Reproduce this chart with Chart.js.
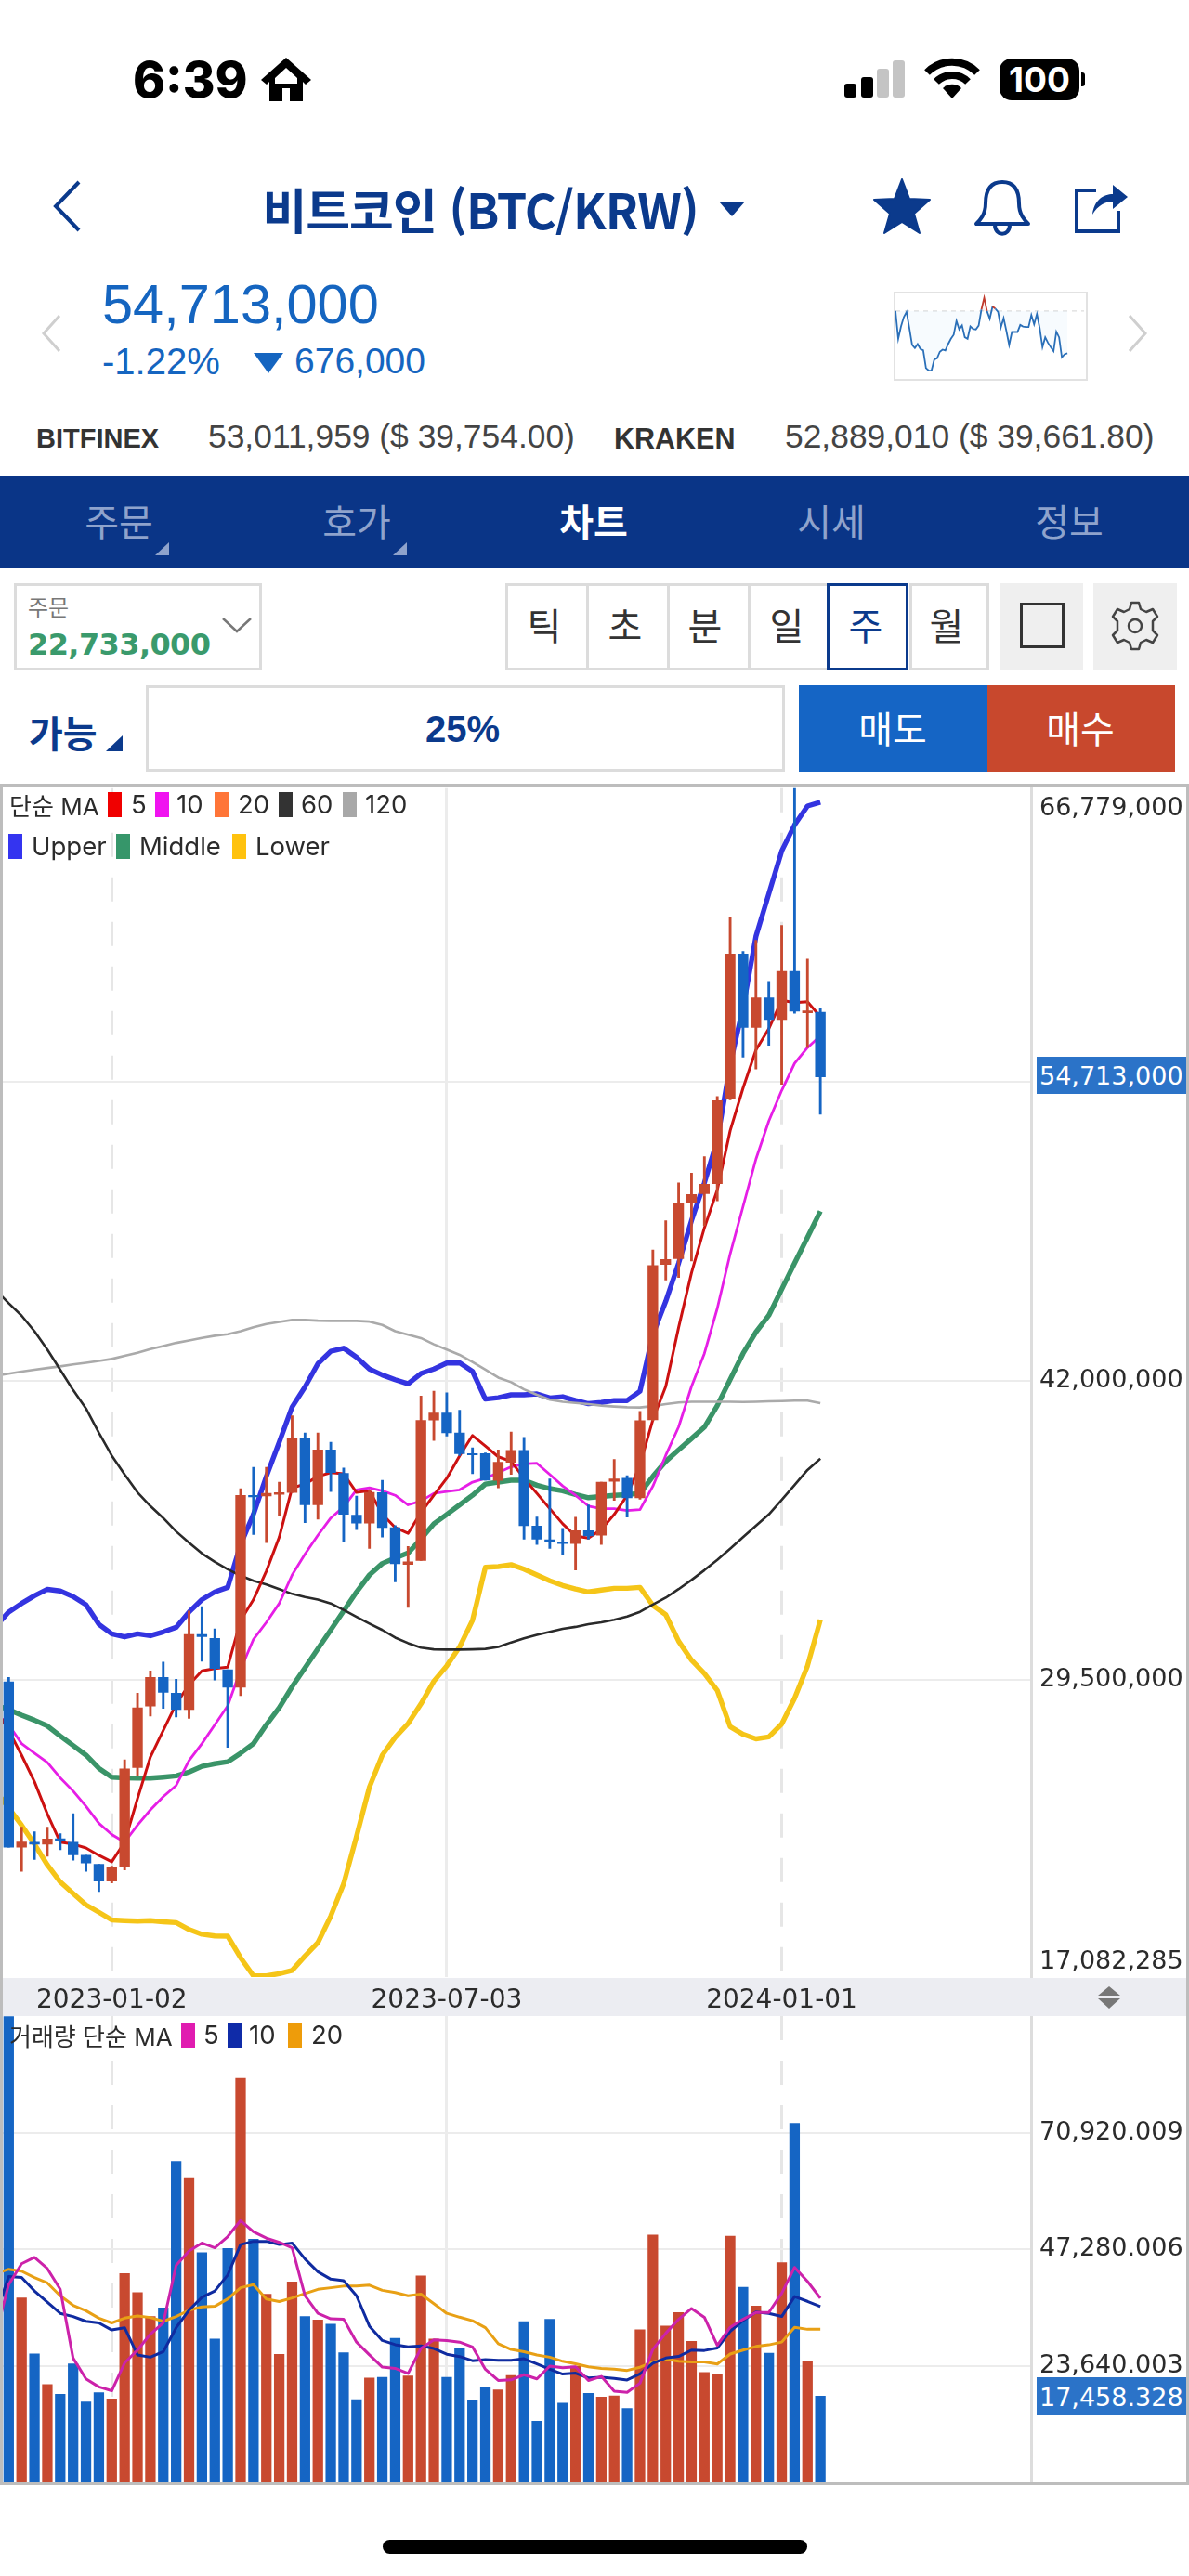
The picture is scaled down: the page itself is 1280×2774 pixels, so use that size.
<!DOCTYPE html>
<html lang="ko">
<head>
<meta charset="utf-8">
<title>비트코인 (BTC/KRW)</title>
<script src="https://cdn.jsdelivr.net/npm/chart.js@4/dist/chart.umd.min.js"></script>
<style>
html, body { margin: 0; padding: 0; background: #fff; }
#page { position: relative; width: 1280px; height: 2774px; overflow: hidden; font-family: "Liberation Sans", "Noto Sans CJK KR", sans-serif; }
#page > * { position: absolute; }
canvas { display: block; }
.c { transform: translate(-50%, -50%); white-space: nowrap; }
.l { transform: translateY(-50%); white-space: nowrap; }
.kr { font-family: "Noto Sans CJK KR", sans-serif; }
.chartText { font-family: Inter, "Noto Sans CJK KR", sans-serif; font-size: 27.5px; color: #2b2b2b; }
.axisText { font-family: "DejaVu Sans", sans-serif; font-size: 27px; color: #2b2b2b; }
.swatch { width: 15px; height: 27px; }
.seg { box-sizing: border-box; border: 3px solid #dcdcdc; background: #fff; }
.tab { font-size: 40px; color: #8fa3cc; }
.btn { font-size: 40px; color: #333; }
</style>
</head>
<body>
<div id="page">

  <!-- status bar -->
  <div class="l" style="left:143px;top:86px;font:800 53px Inter,sans-serif;color:#000">6:39</div>
  <svg style="left:280px;top:60px" width="56" height="50" viewBox="0 0 56 50"><path d="M28 2 L55 26 L49 31 L46 28 V49 H32 V35 H24 V49 H10 V28 L7 31 L1 26 Z M28 13 L16 24 V30 H40 V24 Z" fill="#000" fill-rule="evenodd"/></svg>
  <div style="left:909px;top:90px;width:13px;height:15px;background:#000;border-radius:3px"></div>
  <div style="left:927px;top:83px;width:13px;height:22px;background:#000;border-radius:3px"></div>
  <div style="left:944px;top:74px;width:13px;height:31px;background:#c4c4c4;border-radius:3px"></div>
  <div style="left:961px;top:65px;width:13px;height:40px;background:#c4c4c4;border-radius:3px"></div>
  <svg style="left:995px;top:62px" width="60" height="46" viewBox="0 0 60 46"><path d="M3 16 A38 38 0 0 1 57 16" fill="none" stroke="#000" stroke-width="8"/><path d="M13 26 A24 24 0 0 1 47 26" fill="none" stroke="#000" stroke-width="8"/><path d="M30 44 L20 33 A14 14 0 0 1 40 33 Z" fill="#000"/></svg>
  <div style="left:1076px;top:63px;width:86px;height:45px;border-radius:13px;background:#000;color:#fff;font:bold 37px/45px Inter,sans-serif;text-align:center">100</div>
  <div style="left:1164px;top:78px;width:4px;height:15px;background:#000;border-radius:0 3px 3px 0"></div>

  <!-- title -->
  <svg style="left:55px;top:193px" width="34" height="58" viewBox="0 0 34 58"><path d="M30 3 L5 29 L30 55" fill="none" stroke="#0b3a8c" stroke-width="4"/></svg>
  <div class="c kr" style="left:517px;top:224px;font-size:52px;font-weight:700;color:#0b3a8c;letter-spacing:-1px">비트코인 (BTC/KRW)</div>
  <svg style="left:774px;top:217px" width="28" height="16" viewBox="0 0 28 16"><path d="M0 0 H28 L14 16 Z" fill="#0b3a8c"/></svg>
  <svg style="left:940px;top:192px" width="62" height="60" viewBox="0 0 62 60"><path d="M31 1 L39 22 L61 23 L44 38 L50 59 L31 47 L12 59 L18 38 L1 23 L23 22 Z" fill="#0b3a8c" stroke="#0b3a8c" stroke-width="2" stroke-linejoin="round"/></svg>
  <svg style="left:1047px;top:193px" width="64" height="62" viewBox="0 0 64 62"><path d="M32 3 C18 3 14 14 14 26 C14 38 8 44 4 48 H60 C56 44 50 38 50 26 C50 14 46 3 32 3 Z M24 49 C24 62 40 62 40 49" fill="none" stroke="#0b3a8c" stroke-width="4" stroke-linejoin="round"/></svg>
  <svg style="left:1156px;top:191px" width="60" height="62" viewBox="0 0 60 62"><path d="M24 14 H3 V58 H48 V36" fill="none" stroke="#0b3a8c" stroke-width="4"/><path d="M20 40 C22 24 32 18 42 18 V8 L58 21 L42 34 V26 C34 26 26 30 20 40 Z" fill="#0b3a8c"/></svg>

  <!-- price -->
  <div class="l" style="left:110px;top:327px;font-size:59.5px;color:#1565c0">54,713,000</div>
  <div class="l" style="left:110px;top:389px;font-size:40px;color:#1565c0">-1.22%</div>
  <svg style="left:273px;top:380px" width="32" height="22" viewBox="0 0 32 22"><path d="M0 0 H32 L16 22 Z" fill="#1565c0"/></svg>
  <div class="l" style="left:317px;top:389px;font-size:39px;color:#1565c0">676,000</div>
  <svg style="left:44px;top:338px" width="22" height="42" viewBox="0 0 22 42"><path d="M20 2 L3 21 L20 40" fill="none" stroke="#cfcfcf" stroke-width="3"/></svg>
  <svg style="left:1214px;top:338px" width="22" height="42" viewBox="0 0 22 42"><path d="M2 2 L19 21 L2 40" fill="none" stroke="#cfcfcf" stroke-width="3"/></svg>
  <div style="left:962px;top:314px;width:205px;height:92px;border:2px solid #e2e2e2"></div>
  <canvas id="sparkChart" width="207" height="94" style="left:962px;top:314px;width:207px;height:94px"></canvas>

  <!-- other exchanges -->
  <div class="l" style="left:39px;top:472px;font-size:29px;font-weight:bold;color:#333">BITFINEX</div>
  <div class="l" style="left:224px;top:470px;font-size:35.4px;color:#444">53,011,959 ($ 39,754.00)</div>
  <div class="l" style="left:661px;top:472px;font-size:30.5px;font-weight:bold;color:#333">KRAKEN</div>
  <div class="l" style="left:845px;top:470px;font-size:35.4px;color:#444">52,889,010 ($ 39,661.80)</div>

  <!-- tabs -->
  <div style="left:0;top:513px;width:1280px;height:99px;background:#0a3587"></div>
  <div class="c kr tab" style="left:128px;top:560px">주문</div>
  <div class="c kr tab" style="left:384px;top:560px">호가</div>
  <div class="c kr tab" style="left:639px;top:560px;color:#fff;font-weight:bold">차트</div>
  <div class="c kr tab" style="left:895px;top:560px">시세</div>
  <div class="c kr tab" style="left:1151px;top:560px">정보</div>
  <svg style="left:167px;top:584px" width="15" height="14" viewBox="0 0 15 14"><path d="M15 0 V14 H0 Z" fill="#8fa3cc"/></svg>
  <svg style="left:423px;top:584px" width="15" height="14" viewBox="0 0 15 14"><path d="M15 0 V14 H0 Z" fill="#8fa3cc"/></svg>

  <!-- controls -->
  <div class="seg" style="left:15px;top:628px;width:267px;height:94px"></div>
  <div class="l kr" style="left:30px;top:652px;font-size:24px;color:#777">주문</div>
  <div class="l" style="left:30px;top:694px;font:bold 32px 'DejaVu Sans',sans-serif;color:#3a9a6c;letter-spacing:-0.6px">22,733,000</div>
  <svg style="left:239px;top:665px" width="32" height="17" viewBox="0 0 32 17"><path d="M1 1 L16 15 L31 1" fill="none" stroke="#777" stroke-width="2.5"/></svg>

  <div class="seg" style="left:544px;top:628px;width:90px;height:94px"></div>
  <div class="seg" style="left:631px;top:628px;width:90px;height:94px"></div>
  <div class="seg" style="left:718px;top:628px;width:90px;height:94px"></div>
  <div class="seg" style="left:805px;top:628px;width:90px;height:94px"></div>
  <div class="seg" style="left:979px;top:628px;width:86px;height:94px"></div>
  <div class="seg" style="left:890px;top:628px;width:88px;height:94px;border-color:#0b3a8c"></div>
  <div class="c kr btn" style="left:586px;top:672px">틱</div>
  <div class="c kr btn" style="left:673px;top:672px">초</div>
  <div class="c kr btn" style="left:759px;top:672px">분</div>
  <div class="c kr btn" style="left:847px;top:672px">일</div>
  <div class="c kr btn" style="left:932px;top:672px;color:#0b3a8c">주</div>
  <div class="c kr btn" style="left:1019px;top:672px">월</div>
  <div style="left:1076px;top:628px;width:90px;height:94px;background:#efefef"></div>
  <div style="left:1098px;top:649px;width:42px;height:43px;border:3px solid #333"></div>
  <div style="left:1177px;top:628px;width:90px;height:94px;background:#efefef"></div>
  <svg style="left:1195px;top:647px" width="54" height="54" viewBox="0 0 54 54"><g fill="none" stroke="#444" stroke-width="2.5"><circle cx="27" cy="27" r="7"/><path d="M23 2 H31 L33 9 L39 12 L46 9 L51 17 L46 22 V32 L51 37 L46 45 L39 42 L33 45 L31 52 H23 L21 45 L15 42 L8 45 L3 37 L8 32 V22 L3 17 L8 9 L15 12 L21 9 Z" stroke-linejoin="round"/></g></svg>

  <div class="l kr" style="left:31px;top:788px;font-size:40px;font-weight:bold;color:#0b3a8c">가능</div>
  <svg style="left:114px;top:792px" width="18" height="17" viewBox="0 0 18 17"><path d="M18 0 V17 H0 Z" fill="#0b3a8c"/></svg>
  <div class="seg" style="left:157px;top:738px;width:688px;height:93px"></div>
  <div class="c" style="left:498px;top:785px;font-size:40px;font-weight:bold;color:#0b3a8c">25%</div>
  <div style="left:860px;top:738px;width:203px;height:93px;background:#1565c5"></div>
  <div style="left:1063px;top:738px;width:202px;height:93px;background:#c8482d"></div>
  <div class="c kr" style="left:961px;top:783px;font-size:40px;color:#fff">매도</div>
  <div class="c kr" style="left:1163px;top:783px;font-size:40px;color:#fff">매수</div>

  <!-- chart frame: both canvases start one slot left of the page so the lines run into the frame -->
  <div style="left:0;top:2130px;width:1278px;height:41px;background:#ecedf2"></div>
  <canvas id="priceChart" width="1294" height="1326" style="left:-14px;top:845px;width:1294px;height:1326px"></canvas>
  <canvas id="volumeChart" width="1294" height="502" style="left:-14px;top:2171px;width:1294px;height:502px"></canvas>
  <div style="left:1109px;top:845px;width:3px;height:1285px;background:#dddddd"></div>
  <div style="left:1109px;top:2171px;width:3px;height:502px;background:#dddddd"></div>
  <div style="left:0;top:844px;width:1280px;height:3px;background:#bdbdbd"></div>
  <div style="left:0;top:2673px;width:1280px;height:3px;background:#bdbdbd"></div>
  <div style="left:0;top:844px;width:3px;height:1832px;background:#bdbdbd"></div>
  <div style="left:1277px;top:844px;width:3px;height:1832px;background:#bdbdbd"></div>

  <!-- price legend -->
  <div class="l chartText" style="left:10px;top:866px;font-size:26px">단순 MA</div>
  <div class="swatch" style="left:116px;top:853px;background:#f00000"></div>
  <div class="l chartText" style="left:141px;top:866px">5</div>
  <div class="swatch" style="left:167px;top:853px;background:#f013f0"></div>
  <div class="l chartText" style="left:190px;top:866px">10</div>
  <div class="swatch" style="left:231px;top:853px;background:#ff7538"></div>
  <div class="l chartText" style="left:256px;top:866px">20</div>
  <div class="swatch" style="left:300px;top:853px;background:#333333"></div>
  <div class="l chartText" style="left:324px;top:866px">60</div>
  <div class="swatch" style="left:369px;top:853px;background:#a8a8a8"></div>
  <div class="l chartText" style="left:393px;top:866px">120</div>
  <div class="swatch" style="left:9px;top:898px;background:#3434f0"></div>
  <div class="l chartText" style="left:34px;top:911px">Upper</div>
  <div class="swatch" style="left:125px;top:898px;background:#36966a"></div>
  <div class="l chartText" style="left:150px;top:911px">Middle</div>
  <div class="swatch" style="left:250px;top:898px;background:#ffc20e"></div>
  <div class="l chartText" style="left:275px;top:911px">Lower</div>

  <!-- volume legend -->
  <div class="l chartText" style="left:10px;top:2191px;font-size:26px">거래량 단순 MA</div>
  <div class="swatch" style="left:195px;top:2178px;background:#e01cb0"></div>
  <div class="l chartText" style="left:219px;top:2191px">5</div>
  <div class="swatch" style="left:245px;top:2178px;background:#0f2ba8"></div>
  <div class="l chartText" style="left:268px;top:2191px">10</div>
  <div class="swatch" style="left:310px;top:2178px;background:#ee9c0a"></div>
  <div class="l chartText" style="left:335px;top:2191px">20</div>

  <!-- axis labels at the pane edges and current values -->
  <div class="l axisText" style="left:1119px;top:868px">66,779,000</div>
  <div class="l axisText" style="left:1119px;top:2110px">17,082,285</div>
  <div style="left:1116px;top:1138px;width:161px;height:40px;background:#2b73c8"></div>
  <div class="l axisText" style="left:1119px;top:1158px;color:#fff">54,713,000</div>
  <div style="left:1116px;top:2560px;width:161px;height:41px;background:#2b73c8"></div>
  <div class="l axisText" style="left:1119px;top:2581px;color:#fff">17,458.328</div>
  <svg style="left:1182px;top:2139px" width="24" height="24" viewBox="0 0 24 24"><path d="M12 0 L24 10 H0 Z M0 13 H24 L12 24 Z" fill="#777"/></svg>

  <!-- home bar -->
  <div style="left:412px;top:2735px;width:457px;height:15px;background:#000;border-radius:8px"></div>
</div>

<script>
/* ================= DATA ================= */
// weekly candles, million KRW; the week before the first one is outside the pane
const opens = [null,29.42,22.51,22.72,22.64,22.86,22.72,22.17,21.80,21.09,21.69,25.84,28.41,29.61,28.95,28.26,31.40,31.24,29.93,29.20,37.22,37.19,37.26,37.34,39.59,36.82,39.12,38.14,36.39,36.06,37.33,35.87,34.33,34.49,40.37,40.66,39.83,38.96,38.96,37.84,38.60,39.10,35.93,35.36,35.27,35.20,35.74,35.55,37.80,37.93,37.11,40.38,46.87,47.11,49.45,49.83,50.24,53.81,59.85,56.78,58.01,57.11,59.12,57.39,57.41];
const highs = [null,29.61,23.35,23.15,23.35,23.08,23.91,22.17,21.80,21.72,26.16,28.95,29.88,30.25,29.53,32.38,32.57,31.64,29.93,37.50,38.39,38.39,37.77,40.54,39.83,39.83,39.44,38.36,37.19,37.45,37.85,35.95,35.08,41.37,41.57,41.50,40.78,39.20,38.99,39.12,39.86,39.64,36.31,37.90,35.84,36.30,36.82,37.77,38.72,38.04,40.73,47.47,48.70,50.28,50.68,51.37,53.89,61.37,59.95,60.42,58.70,61.04,67.20,59.63,57.57];
const lows = [null,22.51,21.50,22.00,22.13,22.40,21.97,21.50,20.66,21.02,21.56,25.52,27.99,28.31,27.95,27.90,30.28,29.50,26.68,28.85,35.58,35.24,36.39,37.34,36.08,36.22,37.38,35.28,35.79,35.00,35.47,33.60,32.53,34.49,39.51,39.70,38.88,38.12,37.85,37.53,38.09,35.39,35.16,35.00,34.73,34.10,35.39,35.16,37.01,36.31,37.06,40.34,46.22,46.32,47.01,48.50,49.53,53.75,55.53,55.04,56.03,54.40,57.37,55.93,53.15];
const closes = [null,22.51,22.73,22.64,22.85,22.77,22.19,21.85,21.09,21.66,25.78,28.34,29.61,28.98,28.26,31.40,31.31,29.98,29.20,37.22,37.15,37.30,37.33,39.59,36.82,39.12,38.17,36.43,36.06,37.34,35.87,34.36,34.44,40.35,40.66,39.83,38.96,38.91,37.85,38.60,39.10,35.95,35.39,35.30,35.20,35.74,35.52,37.77,37.90,37.11,40.34,46.82,47.07,49.43,49.79,50.22,53.71,59.85,56.78,58.01,57.11,59.12,57.45,57.47,54.713];

// moving averages and bands
const ma5 = [28.30,27.39,26.36,25.25,23.90,22.72,22.64,22.48,22.17,21.90,22.72,24.54,26.28,27.39,28.50,29.30,29.88,29.98,30.04,31.99,32.86,34.05,35.47,37.53,37.69,38.01,38.17,38.12,37.34,37.41,36.43,35.87,35.63,36.50,37.22,37.93,38.87,39.72,39.28,38.83,38.64,37.93,37.30,36.66,36.03,35.52,35.43,35.79,36.42,37.21,38.50,40.38,41.77,44.24,46.52,48.40,49.98,52.46,54.24,55.83,56.72,57.91,57.81,57.85,57.22];
const ma10 = [28.10,27.63,26.84,26.44,26.05,25.41,24.86,24.22,23.51,23.04,22.72,23.43,24.07,24.62,25.09,26.13,26.84,27.63,28.42,29.93,31.20,31.91,32.70,33.89,34.76,35.55,36.27,36.74,37.45,37.53,37.41,37.22,36.82,36.98,37.30,37.38,37.45,37.77,37.93,38.17,38.41,38.53,38.56,38.09,37.61,37.22,36.77,36.66,36.66,36.58,36.62,37.60,38.89,40.08,41.77,43.15,45.03,47.31,49.29,51.27,52.86,54.14,55.27,55.93,56.42];
const ma60 = [45.80,45.25,44.73,44.08,43.31,42.47,41.62,40.85,39.83,38.88,38.09,37.34,36.77,36.27,35.71,35.24,34.79,34.44,34.13,33.86,33.65,33.49,33.30,33.10,32.97,32.86,32.70,32.43,32.14,31.86,31.59,31.27,31.04,30.85,30.78,30.77,30.77,30.78,30.80,30.88,31.07,31.24,31.39,31.51,31.64,31.72,31.83,31.91,32.02,32.15,32.35,32.65,32.94,33.30,33.68,34.09,34.52,34.99,35.47,35.95,36.42,37.03,37.65,38.28,38.75];
const ma120 = [42.22,42.30,42.39,42.47,42.54,42.61,42.69,42.76,42.84,42.92,43.05,43.18,43.33,43.46,43.59,43.69,43.80,43.89,43.95,44.08,44.24,44.38,44.47,44.55,44.55,44.52,44.51,44.51,44.51,44.48,44.34,44.08,43.93,43.79,43.53,43.31,43.09,42.79,42.47,42.14,41.95,41.65,41.42,41.22,41.13,41.08,41.03,40.97,40.93,40.90,40.89,40.95,41.03,41.10,41.13,41.13,41.13,41.13,41.12,41.13,41.15,41.16,41.18,41.18,41.07];
const upperBand = [31.75,32.34,32.70,33.02,33.29,33.22,32.99,32.65,31.83,31.43,31.30,31.43,31.35,31.51,31.70,32.34,32.86,33.18,33.37,35.16,36.43,38.01,39.44,40.91,41.75,42.72,43.24,43.37,42.99,42.50,42.25,42.05,41.88,42.31,42.50,42.75,42.76,42.40,41.24,41.30,41.42,41.42,41.46,41.29,41.34,41.18,41.05,41.10,41.18,41.18,41.57,43.94,45.33,46.92,48.70,50.28,52.06,55.23,57.61,60.58,62.36,64.15,65.24,66.03,66.19];
const middleBand = [28.45,28.26,28.03,27.82,27.58,27.16,26.76,26.36,25.81,25.44,25.41,25.40,25.40,25.44,25.49,25.65,25.89,26.00,26.08,26.44,26.84,27.63,28.34,29.22,30.01,30.80,31.59,32.39,33.18,33.89,34.37,34.60,34.81,35.39,36.03,36.42,36.82,37.22,37.69,37.77,37.85,37.85,37.64,37.50,37.41,37.25,37.12,37.17,37.22,37.25,37.30,38.01,38.64,39.12,39.59,40.07,40.97,42.06,43.15,44.04,44.74,45.83,46.92,48.00,49.09];
const lowerBand = [24.85,24.15,23.43,22.64,21.77,21.06,20.58,20.10,19.79,19.47,19.44,19.42,19.44,19.39,19.36,19.07,18.87,18.80,18.79,17.89,17.13,17.13,17.22,17.36,17.96,18.52,19.63,20.98,22.96,25.02,26.36,27.10,27.68,28.50,29.45,30.09,30.88,31.99,34.21,34.24,34.32,34.13,33.89,33.65,33.45,33.30,33.18,33.26,33.33,33.33,33.37,32.62,32.23,31.12,30.33,29.77,29.06,27.55,27.23,27.04,27.12,27.66,28.74,30.09,32.02];

// volume, thousand BTC
const volumes = [null,94.45,37.37,26.01,19.79,17.84,24.00,16.28,18.16,16.87,42.30,38.47,33.60,35.35,65.07,61.76,46.58,29.06,47.42,81.93,49.30,38.14,25.95,40.61,33.60,32.89,32.05,26.27,16.74,21.15,21.28,29.19,21.54,41.84,29.06,21.28,27.25,16.67,19.14,18.75,21.67,32.56,12.39,33.02,16.02,23.55,18.03,17.25,17.49,14.98,30.93,50.13,31.66,34.42,28.59,22.27,21.95,49.88,39.52,35.71,26.16,44.54,72.80,24.54,17.458];
const volMa5 = [30.00,40.09,44.31,45.60,43.33,39.12,25.17,20.95,19.33,18.55,24.20,26.79,30.04,32.31,43.98,46.90,48.52,47.55,49.82,53.06,50.79,49.50,48.65,47.55,37.82,34.25,33.15,33.08,28.41,25.82,23.35,23.09,22.06,27.12,28.87,28.74,28.41,27.44,22.90,20.63,20.76,21.80,20.95,23.55,23.22,23.42,20.63,21.46,18.46,18.22,20.08,26.97,30.21,33.04,35.23,33.44,27.78,31.42,33.04,34.42,34.42,38.30,43.57,40.73,37.33];
const volMa10 = [34.00,41.71,41.52,38.79,36.52,34.25,33.60,32.63,32.31,30.88,31.33,25.82,25.36,26.47,31.33,34.90,37.50,38.79,42.04,48.20,48.85,48.85,48.20,48.52,45.28,42.68,41.19,40.87,37.82,31.66,28.74,27.89,27.44,27.63,27.12,25.95,25.49,24.65,24.85,24.72,24.72,25.04,24.00,22.90,21.93,22.12,21.15,21.30,21.05,20.73,21.95,24.13,25.18,25.51,26.80,26.72,27.21,30.61,32.80,34.50,34.25,33.61,37.66,36.68,35.63];
const volMa20 = [42.30,43.20,42.81,41.52,40.41,37.82,35.87,34.77,33.28,32.31,33.28,33.73,33.41,32.63,33.60,34.90,35.55,35.68,37.17,39.44,40.09,37.17,36.65,37.37,38.27,39.12,39.44,39.77,39.77,39.96,38.92,38.47,37.82,38.14,36.20,34.25,33.47,32.76,31.33,28.09,26.92,26.47,25.82,25.36,24.52,24.00,23.42,23.08,22.92,22.67,23.32,24.38,24.94,24.54,24.38,24.38,23.97,25.99,26.80,27.53,27.86,28.42,31.42,31.01,31.01];

// mini chart in the header, arbitrary units
const sparkValues = [220,130,170,200,217,165,110,100,113,97,93,35,27,27,63,67,88,95,92,113,130,143,188,160,173,135,130,170,162,160,173,225,263,220,195,235,228,217,167,197,155,110,152,152,152,175,170,168,168,207,177,210,165,103,135,117,103,90,153,135,70,80,83];
const sparkReference = 220;

// axis ticks
const dateTicks = ["2023-01-02", "2023-07-03", "2024-01-01"];
const dashedDates = ["2023-01-02", "2024-01-01"];
const priceTicks = [29.5, 42, 54.5];
const volumeTicks = [23.640003, 47.280006, 70.920009];
const priceMin = 17.082285;
const priceMax = 66.779;
const volumeMax = 94.560012;

/* ================= CATEGORIES ================= */
// 65 weeks of data plus the empty room on the right of the pane
const SLOT_COUNT = 81;
const weeks = [];
for (let i = 0; i < SLOT_COUNT; i++) {
    const d = new Date(Date.UTC(2022, 9, 31 + i * 7));
    weeks.push(d.toISOString().slice(0, 10));
}

/* ================= STYLES ================= */
const UP_COLOR = "#c8492f";
const DOWN_COLOR = "#1565c4";
const GRID_COLOR = "#ececec";
const AXIS_FONT = { family: "'DejaVu Sans', sans-serif", size: 27 };
const candleColors = closes.map((c, i) => c >= opens[i] ? UP_COLOR : DOWN_COLOR);

function lineSet(data, color, width, order) {
    return {
        type: "line", data, borderColor: color, borderWidth: width,
        pointRadius: 0, tension: 0, order, borderJoinStyle: "round"
    };
}

// tick labels must not push the plot area in from the canvas edges
function noPadding(s) {
    s.paddingTop = 0;
    s.paddingBottom = 0;
    s.paddingLeft = 0;
    s.paddingRight = 0;
}

function xScale(axisHeight, ticks) {
    return {
        type: "category",
        offset: true,
        afterBuildTicks: s => { s.ticks = s.ticks.filter(t => dateTicks.includes(weeks[t.value])); },
        afterFit: s => { s.height = axisHeight; noPadding(s); },
        grid: {
            offset: false, drawTicks: false, lineWidth: 3,
            color: ctx => ctx.tick && dashedDates.includes(weeks[ctx.tick.value]) ? "#e6e6e6" : GRID_COLOR
        },
        border: {
            display: false,
            dash: ctx => ctx.tick && dashedDates.includes(weeks[ctx.tick.value]) ? [26, 22] : []
        },
        ticks
    };
}

function yScale(tickValues, min, max, formatTick) {
    return {
        type: "linear", position: "right", min, max,
        afterBuildTicks: s => { s.ticks = tickValues.map(value => ({ value })); },
        afterFit: s => { s.width = 168; noPadding(s); },
        grid: { color: GRID_COLOR, lineWidth: 2, drawTicks: false },
        border: { display: false },
        ticks: { padding: 7, color: "#2b2b2b", font: AXIS_FONT, autoSkip: false, callback: formatTick }
    };
}

const commonOptions = {
    responsive: false,
    animation: false,
    devicePixelRatio: 1,
    plugins: { legend: { display: false }, tooltip: { enabled: false } },
    events: []
};

/* ================= PRICE CHART ================= */
new Chart(document.getElementById("priceChart"), {
    data: {
        labels: weeks,
        datasets: [
            { type: "bar", data: closes.map((c, i) => c === null ? null : [Math.min(opens[i], c), Math.max(opens[i], c)]), backgroundColor: candleColors, barThickness: 10.7, grouped: false, order: 0 },
            { type: "bar", data: highs.map((h, i) => h === null ? null : [lows[i], h]), backgroundColor: candleColors, barThickness: 2.2, grouped: false, order: 1 },
            lineSet(ma5, "#cc1111", 3, 2),
            lineSet(ma10, "#e61ee6", 2.8, 3),
            lineSet(ma60, "#2a2a2a", 2.6, 4),
            lineSet(ma120, "#aaaaaa", 2.6, 5),
            lineSet(upperBand, "#3434e0", 5.4, 6),
            lineSet(middleBand, "#3a9468", 5.4, 7),
            lineSet(lowerBand, "#f5c518", 5.4, 8)
        ]
    },
    options: {
        ...commonOptions,
        layout: { padding: { left: 2.53, top: 3.7, right: 0, bottom: 0 } },
        scales: {
            x: xScale(42, { padding: 9, color: "#2b2b2b", font: { family: AXIS_FONT.family, size: 28 }, autoSkip: false, maxRotation: 0 }),
            y: yScale(priceTicks, priceMin, priceMax, v => v === 54.5 ? "" : (v * 1e6).toLocaleString("en-US"))
        }
    }
});

/* ================= VOLUME CHART ================= */
new Chart(document.getElementById("volumeChart"), {
    data: {
        labels: weeks,
        datasets: [
            { type: "bar", data: volumes, backgroundColor: candleColors, barThickness: 10.6, grouped: false, order: 3 },
            lineSet(volMa20, "#e8a015", 3, 2),
            lineSet(volMa10, "#0f2ba0", 3, 1),
            lineSet(volMa5, "#cc22aa", 3, 0)
        ]
    },
    options: {
        ...commonOptions,
        layout: { padding: { left: 2.53, top: 0, right: 0, bottom: 0 } },
        scales: {
            x: xScale(0, { display: false, autoSkip: false }),
            y: yScale(volumeTicks, 0, volumeMax, v => (v * 1000).toLocaleString("en-US", { minimumFractionDigits: 3, maximumFractionDigits: 3 }))
        }
    }
});

/* ================= MINI CHART ================= */
new Chart(document.getElementById("sparkChart"), {
    data: {
        labels: Array.from({ length: 69 }, (_, i) => i),
        datasets: [
            {
                type: "line", data: sparkValues, borderColor: "#2a6fb8", borderWidth: 1.8, pointRadius: 0, tension: 0, order: 0,
                fill: { value: sparkReference, below: "rgba(120,190,240,0.06)", above: "rgba(200,60,50,0.08)" },
                segment: {
                    borderColor: ctx => ctx.p0.parsed.y >= sparkReference && ctx.p1.parsed.y >= sparkReference ? "#c0392b" : undefined
                }
            },
            {
                type: "line", data: Array.from({ length: 69 }, () => sparkReference), borderColor: "#dddddd", borderWidth: 1.2,
                borderDash: [5, 5], pointRadius: 0, order: 1
            }
        ]
    },
    options: {
        ...commonOptions,
        layout: { padding: { left: 2, top: 0, right: 2, bottom: 0 } },
        scales: {
            x: { display: false },
            y: { display: false, min: 0, max: 283 }
        }
    }
});
</script>
</body>
</html>
